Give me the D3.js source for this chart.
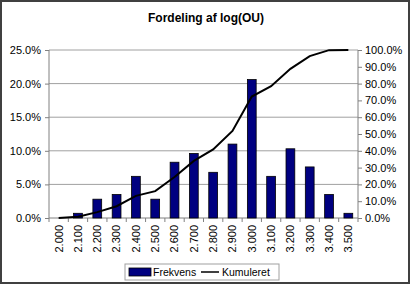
<!DOCTYPE html>
<meta charset="utf-8">
<style>
  body { margin: 0; background: #fff; }
  text { font-family: "Liberation Sans", Arial, sans-serif; }
</style>
<body>
<script src="https://cdn.jsdelivr.net/npm/d3@7"></script>
<script>

    var categories = ["2.000","2.100","2.200","2.300","2.400","2.500","2.600","2.700",
                      "2.800","2.900","3.000","3.100","3.200","3.300","3.400","3.500"];
    var frekvens  = [0, 0.7, 2.8, 3.5, 6.2, 2.8, 8.3, 9.6, 6.8, 11.0, 20.6, 6.2, 10.3, 7.6, 3.5, 0.7];
    var kumuleret = [0, 0.7, 3.5, 7.0, 13.2, 16.0, 24.4, 34.0, 40.8, 51.8, 72.3, 78.5, 88.8, 96.4, 99.9, 100];
    var leftTicks  = [0, 5, 10, 15, 20, 25];
    var rightTicks = [0, 10, 20, 30, 40, 50, 60, 70, 80, 90, 100];

    var w = 412, h = 287;
    var m = {left: 49, right: 358, top: 50, bottom: 218};

    var svg = d3.select("body")
            .append("svg")
            .attr("width", w)
            .attr("height", h);

    // chart frame
    svg.append("rect")
            .attr("x", 1).attr("y", 1)
            .attr("width", 408).attr("height", 282)
            .attr("fill", "#fff")
            .attr("stroke", "#404040")
            .attr("stroke-width", 2);

    svg.append("text")
            .attr("x", 206).attr("y", 22)
            .attr("text-anchor", "middle")
            .attr("font-size", 12).attr("font-weight", "bold")
            .text("Fordeling af log(OU)");

    var x = d3.scaleBand().domain(categories).range([m.left, m.right]);
    var yL = d3.scaleLinear().domain([0, 25]).range([m.bottom, m.top]);
    var yR = d3.scaleLinear().domain([0, 100]).range([m.bottom, m.top]);

    // gridlines
    svg.selectAll("line.grid")
            .data(leftTicks.slice(1))
            .enter()
            .append("line")
            .attr("class", "grid")
            .attr("x1", m.left).attr("x2", m.right)
            .attr("y1", function(d) { return yL(d); })
            .attr("y2", function(d) { return yL(d); })
            .attr("stroke", "#a0a0a0");

    var pct = function(d) { return d.toFixed(1) + "%"; };

    // left axis
    var gl = svg.append("g")
            .attr("transform", "translate(" + m.left + ",0)")
            .call(d3.axisLeft(yL).tickValues(leftTicks).tickSize(4).tickPadding(4).tickFormat(pct));

    // right axis
    var gr = svg.append("g")
            .attr("transform", "translate(" + m.right + ",0)")
            .call(d3.axisRight(yR).tickValues(rightTicks).tickSize(4).tickPadding(3).tickFormat(pct));

    // bottom axis
    var gb = svg.append("g")
            .attr("transform", "translate(0," + m.bottom + ")")
            .call(d3.axisBottom(x).tickSize(0));

    gb.selectAll("text")
            .attr("transform", "rotate(-90)")
            .attr("text-anchor", "end")
            .attr("dy", "0.35em")
            .attr("x", -7)
            .attr("y", 0);

    // tick marks between categories
    gb.selectAll("line.sep")
            .data(d3.range(categories.length + 1))
            .enter()
            .append("line")
            .attr("class", "sep")
            .attr("x1", function(i) { return m.left + i * x.step(); })
            .attr("x2", function(i) { return m.left + i * x.step(); })
            .attr("y1", 0).attr("y2", 4)
            .attr("stroke", "#808080");

    [gl, gr, gb].forEach(function(g) {
        g.selectAll("path.domain").attr("stroke", "#808080");
        g.selectAll(".tick line").attr("stroke", "#808080");
        g.selectAll("text").attr("font-size", 11).attr("fill", "#000")
                .attr("font-family", "Liberation Sans, Arial, sans-serif");
    });
    gl.select("path.domain").attr("d", "M0," + m.bottom + "V" + m.top);
    gr.select("path.domain").attr("d", "M0," + m.bottom + "V" + m.top);
    gb.select("path.domain").attr("d", "M" + m.left + ",0H" + m.right);

    // bars
    var bw = x.step() / 2.2;
    svg.selectAll("rect.bar")
            .data(frekvens.map(function(v, i) { return {c: categories[i], v: v}; })
                    .filter(function(d) { return d.v > 0; }))
            .enter()
            .append("rect")
            .attr("class", "bar")
            .attr("x", function(d) { return x(d.c) + (x.step() - bw) / 2; })
            .attr("y", function(d) { return yL(d.v); })
            .attr("width", bw)
            .attr("height", function(d) { return m.bottom - yL(d.v); })
            .attr("fill", "#000080")
            .attr("stroke", "#000")
            .attr("stroke-width", 0.8);

    // cumulative line
    var line = d3.line()
            .x(function(d, i) { return x(categories[i]) + x.bandwidth() / 2; })
            .y(function(d) { return yR(d); });

    svg.append("path")
            .datum(kumuleret)
            .attr("d", line)
            .attr("fill", "none")
            .attr("stroke", "#000")
            .attr("stroke-width", 2);

    // legend
    var lg = svg.append("g");
    lg.append("rect")
            .attr("x", 125).attr("y", 264)
            .attr("width", 154).attr("height", 16)
            .attr("fill", "#fff").attr("stroke", "#a0a0a0");
    lg.append("rect")
            .attr("x", 129).attr("y", 268)
            .attr("width", 22).attr("height", 8)
            .attr("fill", "#000080").attr("stroke", "#000").attr("stroke-width", 0.8);
    lg.append("text")
            .attr("x", 153).attr("y", 276)
            .attr("font-size", 10.5)
            .text("Frekvens");
    lg.append("line")
            .attr("x1", 201).attr("x2", 219)
            .attr("y1", 272).attr("y2", 272)
            .attr("stroke", "#000").attr("stroke-width", 1.5);
    lg.append("text")
            .attr("x", 222).attr("y", 276)
            .attr("font-size", 10.5)
            .text("Kumuleret");

</script>
